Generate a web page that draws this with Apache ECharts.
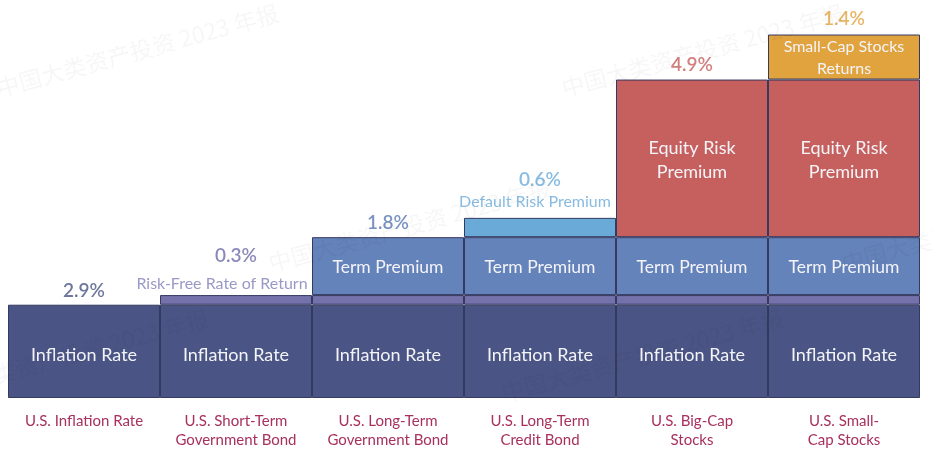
<!DOCTYPE html>
<html>
<head>
<meta charset="utf-8">
<script src="https://cdn.jsdelivr.net/npm/echarts@6/dist/echarts.min.js"></script>
<style>html,body{margin:0;padding:0;background:#fff;}#c{width:932px;height:463px;}</style>
</head>
<body>
<div id="c"></div>
<script>
const categories = ['U.S. Inflation Rate', 'U.S. Short-Term\nGovernment Bond', 'U.S. Long-Term\nGovernment Bond', 'U.S. Long-Term\nCredit Bond', 'U.S. Big-Cap\nStocks', 'U.S. Small-\nCap Stocks'];
const inflation   = [2.9, 2.9, 2.9, 2.9, 2.9, 2.9];
const riskFree    = ['-', 0.3, 0.3, 0.3, 0.3, 0.3];
const termPremium = ['-', '-', 1.8, 1.8, 1.8, 1.8];
const defaultRisk = ['-', '-', '-', 0.6, '-', '-'];
const equityRisk  = ['-', '-', '-', '-', 4.9, 4.9];
const smallCap    = ['-', '-', '-', '-', '-', 1.4];
const layerNames  = ['Inflation Rate', 'Risk-Free Rate of Return', 'Term Premium', 'Default Risk Premium', 'Equity Risk Premium', 'Small-Cap Stocks Returns'];
const insideLabels = ['Inflation Rate', '', 'Term Premium', '', 'Equity Risk\nPremium', 'Small-Cap Stocks\nReturns'];
const annotCaptions = ['', 'Risk-Free Rate of Return', '', 'Default Risk Premium', '', ''];
const annotIndex = [0, 1, 2, 3, 4, 5];
const watermarkText = '中国大类资产投资 2023 年报';

const layers = [inflation, riskFree, termPremium, defaultRisk, equityRisk, smallCap];
const colors = ['#4a5585', '#7471ab', '#6483ba', '#6aaad9', '#c6605e', '#e0a33e'];
const labelColors = ['#4a5585', '#6e6caa', '#5a78b4', '#6aaad9', '#c6605e', '#e0a33e'];
const capColors = ['', '#8080b8', '', '#6aaad9', '', ''];
const insideFont = [18, 0, 17.5, 18, 18, 16];
const insideLH = [22, 0, 22, 0, 24, 22];
const insideOffset = [[0, 4], [0, 0], [0, 1], [0, 0], [0, 2], [0, 1]];
const capPad = [0, 28, 0, 10, 0, 0];
const pctLH = [20, 36, 20, 24, 20, 20];
const annotDist = [4, 1, 4, 6, 5, 6];

const FONT = 'Lato, "Noto Sans", sans-serif';

function num(v) { return v === '-' ? 0 : v; }

const series = layers.map((arr, i) => ({
  name: layerNames[i],
  type: 'bar',
  stack: 'total',
  barWidth: '100%',
  barCategoryGap: 0,
  data: arr,
  itemStyle: { color: colors[i], borderColor: '#353a60', borderWidth: 1 },
  label: {
    show: insideLabels[i] !== '',
    position: 'inside',
    formatter: insideLabels[i],
    color: '#f4f4f8',
    fontFamily: FONT,
    fontSize: insideFont[i] || 12,
    lineHeight: insideLH[i] || 20,
    offset: insideOffset[i]
  },
  emphasis: { disabled: true },
  silent: true,
  z: 2
}));

// annotation points at the top of each layer
layers.forEach((arr, i) => {
  const idx = annotIndex[i];
  let top = 0;
  for (let j = 0; j <= i; j++) top += num(layers[j][idx]);
  const pct = num(arr[idx]).toFixed(1) + '%';
  const hasCap = annotCaptions[i] !== '';
  series.push({
    type: 'scatter',
    symbolSize: 0,
    silent: true,
    z: 5,
    data: [[idx, top]],
    label: {
      show: true,
      position: 'top',
      distance: annotDist[i],
      fontFamily: FONT,
      formatter: hasCap ? '{p|' + pct + '}\n{c|' + annotCaptions[i] + '}' : '{p|' + pct + '}',
      rich: {
        p: { fontSize: 19, color: labelColors[i], fontFamily: FONT, lineHeight: pctLH[i], fontWeight: 600 },
        c: { fontSize: 16, color: capColors[i] || '#888', fontFamily: FONT, lineHeight: 20, padding: [0, capPad[i], 0, 0] }
      }
    }
  });
});

const wmPos = [[0, 100], [565, 100], [272, 275], [845, 275], [-70, 405], [505, 405]];
const graphic = wmPos.map(p => ({
  type: 'text',
  x: p[0], y: p[1],
  rotation: 0.265,
  z: 100,
  silent: true,
  style: { text: watermarkText, fontSize: 23, fontFamily: '"Noto Sans CJK SC", sans-serif', fill: 'rgba(0,0,0,0.035)', textVerticalAlign: 'bottom' }
}));

const chart = echarts.init(document.getElementById('c'));
chart.setOption({
  animation: false,
  backgroundColor: '#fff',
  grid: { left: 8, right: 12, top: 12, bottom: 65 },
  xAxis: {
    type: 'category',
    data: categories,
    axisLine: { show: false },
    axisTick: { show: false },
    axisLabel: { margin: 14, color: '#a8305d', fontFamily: FONT, fontSize: 15, lineHeight: 19, interval: 0 }
  },
  yAxis: { type: 'value', min: 0, max: 12, show: false, splitLine: { show: false } },
  graphic: graphic,
  series: series
});
</script>
</body>
</html>
